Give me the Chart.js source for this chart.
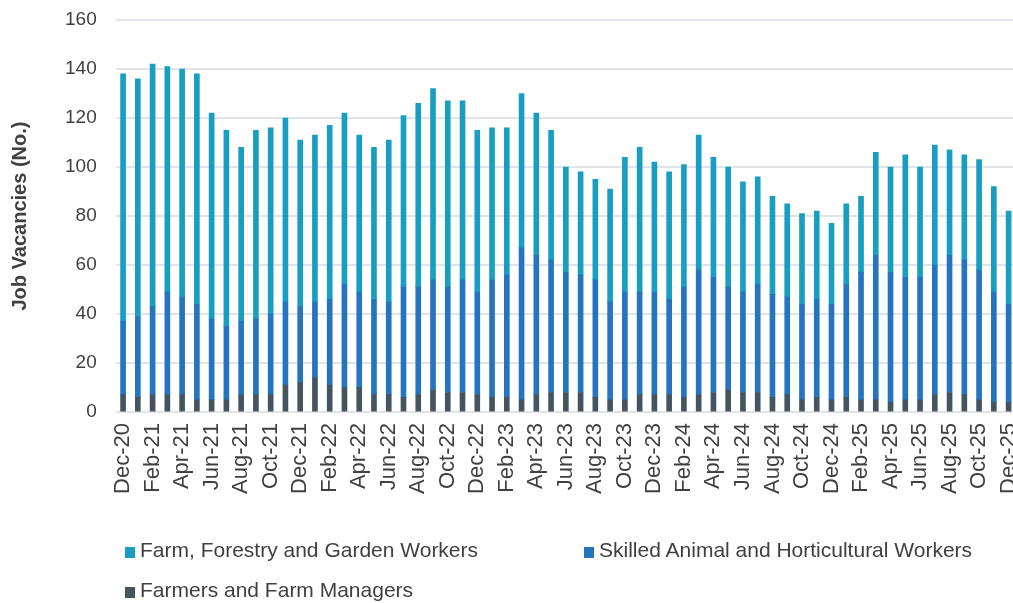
<!DOCTYPE html>
<html>
<head>
<meta charset="utf-8">
<script src="https://cdn.jsdelivr.net/npm/chart.js@4.4.1/dist/chart.umd.min.js"></script>
<style>
html,body{margin:0;padding:0;background:#fff;overflow:hidden;}
#wrap{position:relative;width:1038px;height:497px;}
#legend{position:absolute;left:0;top:0;width:1013px;height:603px;pointer-events:none;font-family:"Liberation Sans",Arial,sans-serif;font-size:21px;color:#404040;}
.item{position:absolute;white-space:nowrap;line-height:24px;}
.item i{display:inline-block;width:10px;height:11px;margin-right:5px;vertical-align:-1px;}
</style>
</head>
<body>
<div id="wrap"><canvas id="c"></canvas></div>
<div id="legend"></div>
<script>
const months=["Dec-20","Jan-21","Feb-21","Mar-21","Apr-21","May-21","Jun-21","Jul-21","Aug-21","Sep-21","Oct-21","Nov-21",
"Dec-21","Jan-22","Feb-22","Mar-22","Apr-22","May-22","Jun-22","Jul-22","Aug-22","Sep-22","Oct-22","Nov-22",
"Dec-22","Jan-23","Feb-23","Mar-23","Apr-23","May-23","Jun-23","Jul-23","Aug-23","Sep-23","Oct-23","Nov-23",
"Dec-23","Jan-24","Feb-24","Mar-24","Apr-24","May-24","Jun-24","Jul-24","Aug-24","Sep-24","Oct-24","Nov-24",
"Dec-24","Jan-25","Feb-25","Mar-25","Apr-25","May-25","Jun-25","Jul-25","Aug-25","Sep-25","Oct-25","Nov-25","Dec-25"];

const farmers=[7,6,7,7,7,5,5,5,7,7,7,11,
12,14,11,10,10,7,7,6,7,9,8,8,
7,6,6,5,7,8,8,8,6,5,5,7,
7,7,6,7,8,9,8,8,6,7,5,6,
5,6,5,5,4,5,5,7,8,7,5,4,4];

const skilled=[30,33,36,42,40,39,33,30,30,31,33,34,
31,31,35,42,39,39,38,45,44,45,43,46,
42,48,50,62,57,54,49,48,48,40,44,42,
42,39,45,51,47,42,41,44,42,40,39,40,
39,46,52,59,53,50,50,53,56,55,53,45,40];

const farm=[101,97,99,92,93,94,84,80,71,77,76,75,
68,68,71,70,64,62,66,70,75,78,76,73,
66,62,60,63,58,53,43,42,41,46,55,59,
53,52,50,55,49,49,45,44,40,38,37,36,
33,33,31,42,43,50,45,49,43,43,45,43,38];

const yTicks=[0,20,40,60,80,100,120,140,160];

const names=["Farm, Forestry and Garden Workers","Skilled Animal and Horticultural Workers","Farmers and Farm Managers"];
const colors=["#189ec1","#2474bf","#45555f"];

const font="'Liberation Sans', Arial, sans-serif";
const txt="#404040";

let chart=new Chart(document.getElementById("c"),{
type:"bar",
data:{
labels:months,
datasets:[
{label:names[2],data:farmers,backgroundColor:colors[2],barThickness:5},
{label:names[1],data:skilled,backgroundColor:colors[1],barThickness:5},
{label:names[0],data:farm,backgroundColor:colors[0],barThickness:5}
]
},
options:{
responsive:true,
maintainAspectRatio:false,
animation:false,
layout:{padding:{top:20,left:8,right:0,bottom:0}},
plugins:{legend:{display:false},tooltip:{enabled:false}},
scales:{
x:{
stacked:true,
grid:{display:false},
border:{display:false},
ticks:{
autoSkip:false,maxRotation:90,minRotation:90,padding:3,
color:txt,font:{family:font,size:22},
callback:(v,i)=>i%2===0?months[i]:""
}
},
y:{
stacked:true,min:0,max:160,
afterBuildTicks:s=>{s.ticks=yTicks.map(v=>({value:v}));},
// invisible tick marks keep the labels away from the plot without adding top padding
grid:{color:"#e0e3e7",lineWidth:2,drawTicks:true,tickLength:16,tickColor:"rgba(0,0,0,0)"},
border:{display:false},
ticks:{padding:3,color:txt,font:{family:font,size:19}},
title:{display:true,text:"Job Vacancies (No.)",color:txt,font:{family:font,size:20,weight:"bold"},padding:{top:0,bottom:30}}
}
}
}
});

// legend laid out like the original, in two columns
let leg=document.getElementById("legend");
let pos=[[125,538],[584,538],[125,578]];
names.forEach((n,i)=>{
let d=document.createElement("div");
d.className="item";
d.style.left=pos[i][0]+"px";
d.style.top=pos[i][1]+"px";
d.innerHTML='<i style="background:'+colors[i]+'"></i>';
d.appendChild(document.createTextNode(n));
leg.appendChild(d);
});
</script>
</body>
</html>
